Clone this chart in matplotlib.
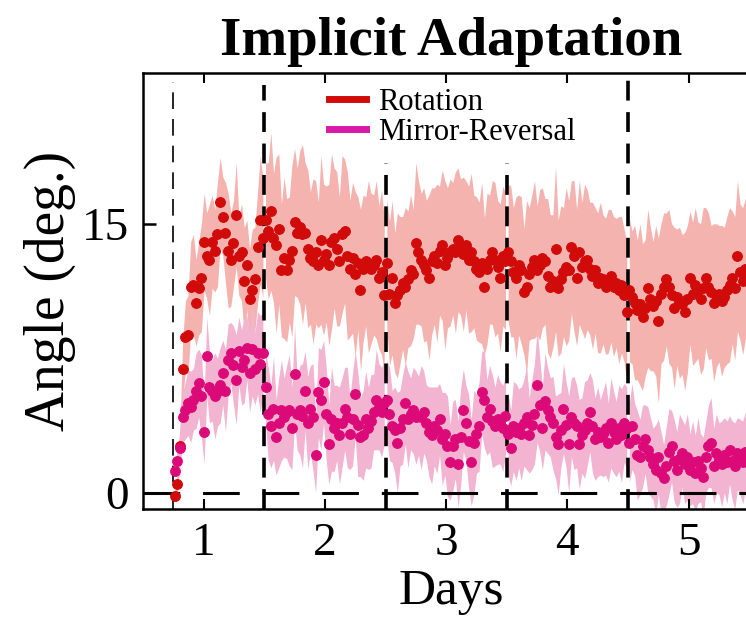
import numpy as np
import matplotlib
matplotlib.use("Agg")
import matplotlib.pyplot as plt
from matplotlib.lines import Line2D

plt.rcParams['font.family'] = ['Liberation Serif', 'DejaVu Serif']

# ---------------- data (degrees) ----------------
day_labels = ['1', '2', '3', '4', '5']
day_ticks = [1, 2, 3, 4, 5]
block_starts = [0.75, 1.5, 2.5, 3.5, 4.5]
block_ends = [1.5, 2.5, 3.5, 4.5, 5.5]

rot_d1 = [-0.2, 0.5, 2.6, 6.9, 8.7, 8.8, 11.5, 11.6, 10.6, 11.4, 12.0, 14.0, 13.2, 13.0, 14.0, 13.5, 14.4,
          16.2, 15.4, 14.5, 13.5, 13.0, 13.9, 15.5, 13.2, 13.4, 11.8, 12.7, 10.8, 11.3, 11.9, 13.7, 15.2, 14.2]
rot_d2 = [15.2, 14.6, 15.7, 14.2, 13.8, 14.7, 12.4, 13.1, 12.4, 13.0, 13.5, 15.1, 14.5, 14.8, 14.4, 14.5,
          13.6, 13.1, 12.9, 13.4, 12.7, 14.1, 13.0, 13.3, 12.7, 14.0, 14.2, 13.6, 12.9, 14.4, 14.6, 13.2,
          12.5, 13.1, 12.2, 12.8, 11.3, 12.5, 12.9, 12.6, 12.5, 12.7, 13.0, 12.0, 12.3, 11.0]
rot_d3 = [12.8, 11.1, 12.0, 10.6, 11.0, 11.3, 11.7, 11.5, 11.9, 12.4, 12.2, 13.9, 13.4, 13.0, 12.7, 12.4,
          12.0, 12.9, 13.2, 12.8, 13.5, 13.8, 12.7, 13.1, 13.4, 13.6, 13.4, 14.1, 13.7, 13.3, 13.8, 13.0,
          13.4, 12.9, 12.5, 12.3, 12.8, 11.5, 12.5, 13.0, 13.4, 13.0, 12.6, 12.0, 13.2, 12.9]
rot_d4 = [13.4, 12.9, 12.3, 12.0, 12.7, 12.4, 11.2, 11.5, 12.2, 12.6, 13.0, 12.4, 12.7, 13.1, 12.9, 12.1,
          11.5, 11.8, 13.6, 11.4, 11.9, 12.3, 12.6, 12.4, 13.7, 13.2, 12.0, 13.4, 12.6, 12.9, 13.0, 12.5,
          12.1, 12.4, 11.7, 12.0, 11.9, 11.5, 11.8, 12.1, 11.5, 11.7, 11.3, 11.6, 11.0, 10.1]
rot_d5 = [11.3, 10.9, 10.6, 10.2, 10.5, 9.8, 10.3, 11.4, 10.8, 10.4, 10.7, 9.6, 11.1, 11.5, 11.9, 11.5,
          11.0, 10.3, 10.9, 10.6, 10.5, 10.1, 10.8, 12.0, 11.1, 11.6, 11.3, 10.8, 11.4, 12.0, 11.5, 11.2,
          10.6, 11.0, 11.1, 10.7, 10.9, 11.3, 11.6, 12.0, 11.4, 13.2, 12.3, 11.8, 12.5, 12.1]

rot_sem_d1 = [0.3, 0.5, 1.0, 1.6, 2.0, 2.2, 2.5, 2.8, 2.4, 2.6, 3.0, 2.7, 2.4, 3.1, 2.6, 2.3, 2.9, 2.5,
              2.2, 2.8, 3.2, 2.6, 2.4, 2.9, 2.2, 2.7, 3.0, 2.5, 2.8, 3.4, 2.9, 3.1, 3.6, 3.3]
rot_sem_d2 = [3.2, 3.8, 4.4, 3.6, 4.9, 4.2, 3.7, 4.5, 4.0, 3.5, 4.8, 4.1, 3.6, 4.3, 5.0, 3.9, 4.4, 3.7,
              4.6, 4.0, 3.5, 4.7, 4.2, 3.8, 4.5, 4.9, 3.9, 4.3, 3.6, 4.4, 4.0, 4.7, 3.8, 4.2, 4.6, 3.7,
              4.5, 4.1, 3.6, 4.8, 4.2, 3.9, 4.4, 4.0, 4.6, 4.3]
rot_sem_d3 = [3.6, 4.0, 4.3, 3.9, 4.6, 4.1, 3.7, 4.4, 3.8, 4.2, 3.6, 4.5, 4.0, 3.7, 4.3, 3.9, 4.6, 4.1,
              3.8, 4.4, 3.6, 4.2, 4.7, 3.9, 4.1, 3.7, 4.5, 4.0, 3.8, 4.3, 3.6, 4.1, 4.4, 3.7, 4.0, 3.9,
              4.5, 3.8, 4.2, 3.6, 4.0, 4.3, 3.7, 4.1, 3.9, 3.8]
rot_sem_d4 = [3.8, 4.2, 3.6, 4.5, 3.9, 4.1, 3.5, 4.8, 3.7, 4.0, 4.4, 3.6, 4.2, 3.9, 3.5, 4.3, 4.0, 3.7,
              4.6, 3.8, 4.1, 3.6, 4.4, 3.9, 3.7, 4.2, 3.8, 4.0, 3.6, 4.3, 3.9, 3.7, 4.1, 3.5, 3.9, 4.2,
              3.6, 3.8, 4.0, 3.7, 3.9, 3.6, 4.1, 3.8, 3.7, 3.9]
rot_sem_d5 = [4.0, 3.7, 4.3, 3.9, 4.5, 4.1, 3.8, 4.4, 4.0, 3.6, 4.2, 4.6, 3.9, 4.1, 3.7, 4.3, 4.0, 4.5,
              3.8, 4.2, 3.9, 4.4, 4.1, 3.7, 4.0, 4.3, 3.8, 4.2, 4.5, 3.9, 4.1, 3.7, 4.4, 4.0, 3.8, 4.2,
              3.9, 4.1, 4.3, 3.7, 4.0, 4.2, 3.8, 4.1, 3.9, 4.0]

mir_d1 = [1.2, 1.8, 2.5, 4.2, 4.6, 5.0, 4.8, 5.2, 5.7, 6.1, 5.4, 3.4, 7.6, 5.9, 5.7, 5.4, 5.6, 6.0, 6.7,
          5.7, 7.4, 7.8, 7.1, 6.3, 7.9, 7.0, 7.4, 8.1, 6.7, 8.0, 6.9, 7.8, 7.2, 7.8]
mir_d2 = [5.9, 4.4, 3.7, 4.7, 3.1, 3.9, 4.6, 4.2, 4.5, 4.6, 3.6, 6.6, 4.4, 4.6, 4.3, 5.7, 3.9, 4.7, 4.2,
          2.1, 5.6, 5.2, 6.2, 4.4, 2.7, 4.1, 3.6, 3.9, 3.2, 3.9, 4.7, 4.2, 3.3, 4.1, 5.5, 3.8, 3.1, 3.2,
          4.1, 3.6, 4.0, 4.5, 5.2, 4.8, 4.5, 5.0]
mir_d3 = [5.2, 4.4, 3.7, 3.5, 2.8, 3.6, 4.1, 5.0, 4.1, 4.4, 4.6, 4.2, 4.3, 4.2, 4.5, 3.9, 3.4, 3.2, 3.7,
          3.5, 4.1, 3.0, 3.3, 2.6, 1.7, 2.6, 3.0, 1.6, 3.1, 4.6, 3.9, 2.9, 1.7, 2.8, 3.3, 3.7, 5.6, 5.2,
          4.2, 4.7, 4.0, 3.7, 4.1, 3.9, 3.6, 4.3]
mir_d4 = [3.3, 2.5, 3.7, 3.4, 3.6, 3.3, 3.9, 4.2, 3.2, 3.8, 4.4, 6.0, 4.9, 3.6, 5.1, 4.6, 4.2, 3.9, 3.1,
          2.7, 3.5, 4.7, 3.8, 2.7, 4.2, 3.9, 3.7, 2.7, 3.2, 3.5, 3.9, 4.5, 3.7, 3.0, 3.4, 3.1, 3.3, 3.6,
          2.8, 3.9, 3.4, 3.0, 3.6, 3.2, 3.9, 3.6]
mir_d5 = [2.8, 3.7, 3.0, 2.1, 2.0, 2.6, 3.0, 2.4, 2.0, 1.6, 1.3, 2.0, 1.1, 0.8, 1.5, 2.3, 2.6, 1.8, 1.3,
          1.9, 2.2, 1.6, 2.0, 1.3, 1.7, 1.1, 1.8, 1.4, 0.9, 2.0, 2.6, 2.8, 1.5, 2.2, 1.9, 1.6, 2.1, 1.7,
          2.4, 1.8, 1.5, 2.2, 2.0, 1.7, 2.3, 1.9]

mir_sem_d1 = [0.3, 0.6, 1.0, 1.4, 1.6, 1.8, 2.0, 1.7, 2.1, 1.9, 2.3, 1.8, 2.2, 2.0, 1.7, 2.4, 1.9, 2.1,
              1.8, 2.3, 2.0, 1.7, 2.2, 2.5, 1.9, 2.1, 2.4, 1.8, 2.2, 2.6, 2.0, 2.3, 2.7, 2.2]
mir_sem_d2 = [2.0, 2.6, 2.3, 2.9, 2.1, 2.5, 2.8, 2.2, 2.6, 3.1, 2.3, 2.7, 2.0, 2.5, 2.9, 2.2, 2.6, 2.4,
              3.0, 2.1, 2.5, 2.8, 2.3, 2.6, 2.2, 2.9, 2.4, 2.1, 2.7, 2.5, 2.3, 2.8, 2.0, 2.6, 2.4, 2.9,
              2.2, 2.5, 2.7, 2.3, 2.6, 2.1, 2.8, 2.4, 2.5, 2.3]
mir_sem_d3 = [2.2, 2.6, 2.0, 2.4, 2.8, 2.1, 2.5, 2.3, 2.7, 2.0, 2.4, 2.6, 2.2, 2.9, 2.3, 2.1, 2.5, 2.7,
              2.2, 2.4, 2.0, 2.6, 2.3, 2.8, 2.1, 2.5, 2.2, 2.4, 2.7, 2.3, 2.1, 2.6, 2.4, 2.9, 2.2, 2.5,
              2.3, 2.7, 2.1, 2.4, 2.6, 2.2, 2.5, 2.3, 2.4, 2.2]
mir_sem_d4 = [2.3, 2.1, 2.5, 2.7, 2.2, 2.6, 2.4, 2.9, 2.1, 2.5, 2.8, 3.2, 2.6, 2.3, 2.7, 2.4, 2.2, 2.6,
              2.3, 2.8, 2.1, 2.5, 2.4, 2.7, 2.2, 2.6, 2.3, 2.5, 2.1, 2.7, 2.4, 2.2, 2.6, 2.3, 2.5, 2.1,
              2.4, 2.6, 2.2, 2.5, 2.3, 2.1, 2.4, 2.6, 2.2, 2.3]
mir_sem_d5 = [2.2, 2.4, 2.0, 2.5, 2.1, 2.3, 1.9, 2.4, 2.2, 2.0, 2.5, 2.1, 2.3, 1.9, 2.2, 2.4, 2.0, 2.3,
              2.1, 2.5, 1.9, 2.2, 2.4, 2.0, 2.3, 2.1, 2.4, 1.9, 2.2, 2.0, 2.3, 2.5, 2.1, 2.2, 2.0, 2.4,
              2.1, 2.3, 1.9, 2.2, 2.4, 2.0, 2.1, 2.3, 2.2, 2.0]

rot_blocks = [rot_d1, rot_d2, rot_d3, rot_d4, rot_d5]
rot_sem_blocks = [rot_sem_d1, rot_sem_d2, rot_sem_d3, rot_sem_d4, rot_sem_d5]
mir_blocks = [mir_d1, mir_d2, mir_d3, mir_d4, mir_d5]
mir_sem_blocks = [mir_sem_d1, mir_sem_d2, mir_sem_d3, mir_sem_d4, mir_sem_d5]

# ---------------- style ----------------
ROT_C = '#D10A0A'
ROT_BAND = '#F4B3AE'
MIR_C = '#DC0A78'
MIR_BAND = '#F2B4D1'
MIR_LEG = '#D91AA8'

fig = plt.figure(figsize=(7.46, 6.29), dpi=100)
ax = fig.add_axes([143 / 746, 120 / 629, (759 - 143) / 746, (509 - 73) / 629])

for s, e, rv, rs, mv, ms in zip(block_starts, block_ends, rot_blocks, rot_sem_blocks,
                                 mir_blocks, mir_sem_blocks):
    n = len(rv)
    step = (e - s) / n
    x = s + step * (np.arange(n) + 0.5)
    rv = np.array(rv); rs = np.array(rs)
    mv = np.array(mv); ms = np.array(ms)
    ax.fill_between(x, rv - rs, rv + rs, color=ROT_BAND, lw=0, zorder=1)
    ax.fill_between(x, mv - ms, mv + ms, color=MIR_BAND, lw=0, zorder=1)
    ax.plot(x, rv, 'o', color=ROT_C, ms=7.0, mec=ROT_C, mew=0.8, zorder=4)
    ax.plot(x, mv, 'o', color=MIR_C, ms=7.0, mec=MIR_C, mew=0.8, zorder=4)

# reference lines
ax.axhline(0, color='black', lw=2.2, dashes=(12, 7.5), zorder=3)
ax.plot([0.75, 0.75], [-0.9, 22.9], color='black', lw=1.2, dashes=(10, 6), zorder=3)
ax.plot([1.5, 1.5], [-0.9, 22.75], color='black', lw=2.6, dashes=(5.5, 3.2), zorder=3)
ax.plot([2.5, 2.5], [-0.9, 18.4], color='black', lw=2.6, dashes=(5.5, 3.2), zorder=3)
ax.plot([3.5, 3.5], [-0.9, 18.4], color='black', lw=2.6, dashes=(5.5, 3.2), zorder=3)
ax.plot([4.5, 4.5], [-0.9, 23.1], color='black', lw=2.6, dashes=(5.5, 3.2), zorder=3)

ax.set_xlim(0.5, 5.58)
ax.set_ylim(-0.9, 23.4)
ax.set_xticks(day_ticks)
ax.set_xticklabels(day_labels)
ax.set_yticks([0, 15])
ax.set_yticklabels(['0', '15'])
ax.tick_params(axis='x', direction='in', length=7, width=1.5, top=True, labelsize=34, pad=10)
ax.tick_params(axis='y', direction='in', length=9, width=1.8, right=False, labelsize=34, pad=10)
for sp in ax.spines.values():
    sp.set_linewidth(1.8)
ax.spines['right'].set_visible(False)

ax.set_xlabel('Days', fontsize=37, labelpad=2)
ax.set_ylabel('Angle (deg.)', fontsize=40, labelpad=4)
ax.set_title('Implicit Adaptation', fontsize=39.5, fontweight='bold', pad=13)

handles = [Line2D([], [], color=ROT_C, lw=5),
           Line2D([], [], color=MIR_LEG, lw=5)]
fig.legend(handles, ['Rotation', 'Mirror-Reversal'], loc='upper left',
           bbox_to_anchor=(329 / 746, 1 - 88 / 629), frameon=False, fontsize=22,
           handlelength=1.2, handletextpad=0.4, labelspacing=0.02, borderpad=0, borderaxespad=0)

fig.savefig('out.png', dpi=100)
